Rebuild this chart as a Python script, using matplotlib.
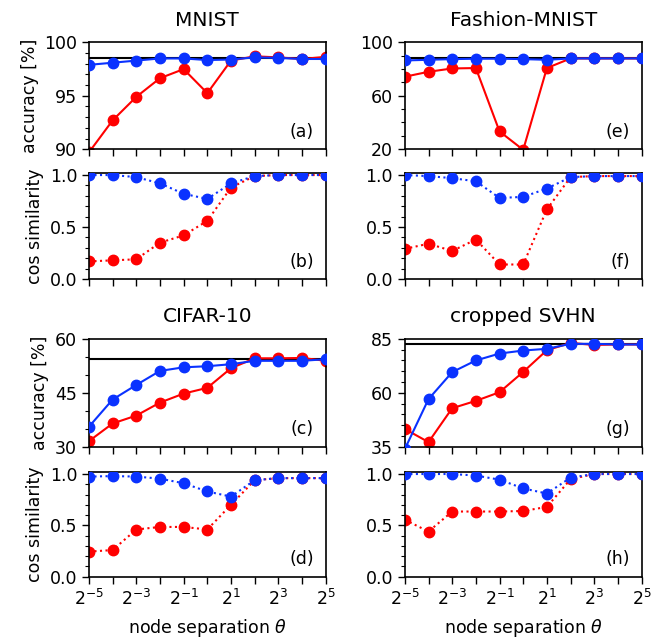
import numpy as np
import matplotlib
matplotlib.use("Agg")
import matplotlib.pyplot as plt
from matplotlib.ticker import MultipleLocator, FixedLocator

exponents = list(range(-5, 6))

# MNIST
mnist_acc_red = [89.7, 92.7, 94.9, 96.65, 97.5, 95.25, 98.3, 98.7, 98.6, 98.45, 98.65]
mnist_acc_blue = [97.9, 98.1, 98.3, 98.5, 98.5, 98.35, 98.4, 98.6, 98.55, 98.45, 98.45]
mnist_ref = 98.5
mnist_cos_red = [0.17, 0.18, 0.19, 0.35, 0.42, 0.56, 0.88, 0.99, 1.0, 1.0, 1.0]
mnist_cos_blue = [1.0, 1.0, 0.98, 0.92, 0.82, 0.77, 0.92, 0.99, 1.0, 1.0, 1.0]

# Fashion-MNIST
fashion_acc_red = [74.3, 78.0, 80.5, 80.8, 33.3, 19.5, 80.8, 88.0, 88.0, 88.0, 88.0]
fashion_acc_blue = [86.5, 87.0, 87.5, 87.8, 87.8, 87.5, 87.0, 88.0, 88.0, 88.0, 88.0]
fashion_ref = 88.3
fashion_cos_red = [0.29, 0.34, 0.27, 0.38, 0.14, 0.14, 0.67, 0.98, 0.99, 0.99, 0.99]
fashion_cos_blue = [1.0, 0.99, 0.97, 0.94, 0.78, 0.79, 0.87, 0.98, 0.99, 0.99, 0.99]

# CIFAR-10
cifar_acc_red = [31.6, 36.5, 38.7, 42.3, 44.8, 46.4, 51.85, 54.6, 54.6, 54.7, 53.9]
cifar_acc_blue = [35.6, 43.15, 47.2, 51.1, 52.1, 52.4, 52.96, 53.9, 53.9, 53.9, 54.35]
cifar_ref = 54.44
cifar_cos_red = [0.245, 0.26, 0.46, 0.485, 0.485, 0.46, 0.70, 0.94, 0.96, 0.96, 0.96]
cifar_cos_blue = [0.975, 0.98, 0.975, 0.955, 0.91, 0.83, 0.78, 0.94, 0.96, 0.96, 0.96]

# cropped SVHN
svhn_acc_red = [43.3, 37.2, 52.9, 56.3, 60.3, 69.7, 79.75, 83.1, 82.2, 82.4, 82.4]
svhn_acc_blue = [34.0, 57.1, 69.6, 75.0, 78.2, 79.6, 80.4, 82.7, 82.7, 82.4, 82.4]
svhn_ref = 82.4
svhn_cos_red = [0.555, 0.44, 0.635, 0.635, 0.635, 0.64, 0.68, 0.95, 1.0, 1.0, 1.0]
svhn_cos_blue = [1.0, 1.0, 1.0, 0.985, 0.945, 0.86, 0.81, 0.965, 1.0, 1.0, 1.0]

titles = ["MNIST", "Fashion-MNIST", "CIFAR-10", "cropped SVHN"]
acc_ylims = [(90, 100), (20, 100), (30, 60), (35, 85)]
acc_ticks = [[90, 95, 100], [20, 60, 100], [30, 45, 60], [35, 60, 85]]
acc_minor = [1, 10, 5, 5]
acc_letters = ["(a)", "(e)", "(c)", "(g)"]
cos_letters = ["(b)", "(f)", "(d)", "(h)"]

RED = "#ff0000"
BLUE = "#0a32ff"

FS = 12.5

plt.rcParams["font.family"] = "DejaVu Sans"
plt.rcParams["font.size"] = FS

fig = plt.figure(figsize=(6.54, 6.43), dpi=100)

x = np.power(2.0, exponents)

datasets = [
    (mnist_acc_red, mnist_acc_blue, mnist_ref, mnist_cos_red, mnist_cos_blue),
    (fashion_acc_red, fashion_acc_blue, fashion_ref, fashion_cos_red, fashion_cos_blue),
    (cifar_acc_red, cifar_acc_blue, cifar_ref, cifar_cos_red, cifar_cos_blue),
    (svhn_acc_red, svhn_acc_blue, svhn_ref, svhn_cos_red, svhn_cos_blue),
]

col_left = [0.136, 0.619]
col_w = 0.362
acc_rows = [(0.768, 0.166), (0.305, 0.168)]
cos_rows = [(0.566, 0.165), (0.103, 0.163)]

def style_x(ax, labels):
    ax.set_xscale("log", base=2)
    ax.set_xlim(x[0], x[-1])
    ax.set_xticks(x)
    if labels:
        ax.set_xticklabels([f"$2^{{{k}}}$" if k % 2 != 0 else "" for k in exponents])
    else:
        ax.set_xticklabels([])
    ax.xaxis.set_minor_locator(matplotlib.ticker.NullLocator())
    ax.tick_params(axis="both", which="both", direction="out", labelsize=FS)
    ax.tick_params(which="major", length=5, width=1)
    ax.tick_params(which="minor", length=3, width=0.8)
    for s in ax.spines.values():
        s.set_linewidth(1.2)

for i, (ar, ab, ref, cr, cb) in enumerate(datasets):
    col = i % 2
    row = i // 2
    left = col_left[col]
    # accuracy
    b, h = acc_rows[row]
    ax = fig.add_axes([left, b, col_w, h])
    ax.axhline(ref, color="black", lw=1.5, zorder=1)
    ax.plot(x, ar, "-o", color=RED, lw=1.5, ms=7.5, zorder=2)
    ax.plot(x, ab, "-o", color=BLUE, lw=1.5, ms=7.5, zorder=3)
    ax.set_ylim(*acc_ylims[i])
    ax.yaxis.set_major_locator(FixedLocator(acc_ticks[i]))
    lo, hi = acc_ylims[i]
    ax.yaxis.set_minor_locator(FixedLocator(np.arange(lo, hi + 0.001, acc_minor[i])))
    style_x(ax, False)
    ax.set_title(titles[i], fontsize=14.5, pad=12)
    ax.text(0.95, 0.08, acc_letters[i], transform=ax.transAxes, ha="right", va="bottom", fontsize=FS)
    if col == 0:
        ax.set_ylabel("accuracy [%]", fontsize=FS)
    # cos similarity
    b, h = cos_rows[row]
    ax2 = fig.add_axes([left, b, col_w, h])
    ax2.plot(x, cr, ":o", color=RED, lw=1.5, ms=7.5, zorder=2)
    ax2.plot(x, cb, ":o", color=BLUE, lw=1.5, ms=7.5, zorder=3)
    ax2.set_ylim(0, 1.02)
    ax2.yaxis.set_major_locator(MultipleLocator(0.5))
    ax2.yaxis.set_minor_locator(MultipleLocator(0.1))
    style_x(ax2, row == 1)
    ax2.text(0.95, 0.08, cos_letters[i], transform=ax2.transAxes, ha="right", va="bottom", fontsize=FS)
    if col == 0:
        ax2.set_ylabel("cos similarity", fontsize=FS)
    if row == 1:
        ax2.set_xlabel(r"node separation $\theta$", fontsize=12.5, labelpad=6)

fig.savefig("out.png", dpi=100)
